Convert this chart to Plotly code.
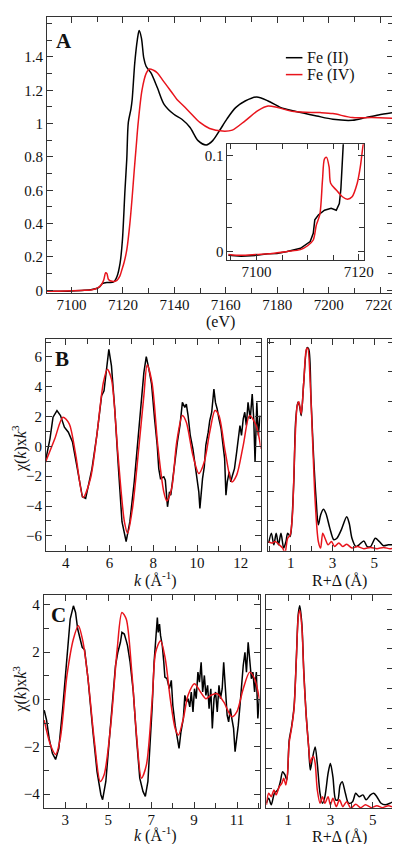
import plotly.graph_objects as go

FONT = "Liberation Serif"
FRAME = "#333333"
BLACK = "#000000"
RED = "#e8141c"

# ---------------- Panel A : XANES ----------------
a_e_fe2 = [7090.5, 7095, 7100, 7105, 7108, 7110, 7111, 7112, 7114, 7116.4, 7117.7, 7118.9, 7119.8,
           7120.8, 7121.5, 7122.1, 7123.1, 7123.6, 7124.6, 7125.6, 7126.3, 7127.2, 7128.1, 7129.0,
           7130.9, 7133.4, 7136.0, 7139.8, 7142.9, 7146.1, 7149.2, 7152.4, 7154.9, 7157.5, 7160.5,
           7163.8, 7167.5, 7172.0, 7176.4, 7181.4, 7186.5, 7195.3, 7201.6, 7209.2, 7214.3, 7219.3, 7225]
a_mu_fe2 = [-0.004, -0.006, -0.004, 0.0, 0.005, 0.012, 0.022, 0.04, 0.047, 0.05, 0.083, 0.163, 0.30,
            0.60, 0.788, 1.007, 1.086, 1.145, 1.364, 1.503, 1.558, 1.513, 1.394, 1.344,
            1.304, 1.215, 1.116, 1.056, 1.026, 0.977, 0.898, 0.872, 0.898, 0.957, 1.03,
            1.096, 1.136, 1.16, 1.136, 1.096, 1.076, 1.046, 1.026, 1.02, 1.036, 1.052, 1.066]

a_e_fe4 = [7090.5, 7095, 7100, 7105, 7108, 7110, 7111.5, 7112.5, 7113.3, 7113.8, 7114.4, 7115.8, 7117.7,
           7118.8, 7119.6, 7120.5, 7121.5, 7122.7, 7123.6, 7124.4, 7125.2, 7125.9, 7127.4, 7129.0,
           7130.3, 7131.9, 7133.4, 7135.3, 7137.2, 7139.1, 7141.0, 7143.6, 7146.7, 7149.9, 7153.7,
           7158.7, 7162.5, 7167.5, 7172.6, 7176.4, 7180.2, 7186.5, 7196.6, 7201.6, 7209.2, 7216.8, 7225]
a_mu_fe4 = [-0.006, -0.005, -0.003, 0.0, 0.004, 0.012, 0.03, 0.06, 0.105, 0.1, 0.065, 0.054, 0.06,
            0.085, 0.123, 0.17, 0.242, 0.40, 0.56, 0.72, 0.87, 1.0, 1.2, 1.3,
            1.328, 1.32, 1.304, 1.264, 1.225, 1.185, 1.145, 1.106, 1.056, 1.007, 0.971,
            0.955, 0.961, 1.017, 1.08, 1.106, 1.096, 1.072, 1.066, 1.06, 1.036, 1.036, 1.032]
a_y_tickvals = [0, 0.2, 0.4, 0.6, 0.8, 1.0, 1.2, 1.4]

# inset (pre-edge)
ins_e_fe2 = [7094.5, 7097, 7100, 7102.2, 7104, 7105, 7106, 7108.6, 7110.5, 7111.1, 7111.4, 7112.1,
             7113.3, 7114.6, 7115.6, 7116.2, 7116.5, 7116.7, 7117.0]
ins_mu_fe2 = [-0.004, -0.005, -0.004, -0.0024, -0.002, -0.001, 0.0, 0.0034, 0.0103, 0.019, 0.033, 0.038,
              0.043, 0.045, 0.043, 0.05, 0.065, 0.085, 0.115]
ins_e_fe4 = [7094.5, 7097, 7100, 7103, 7106, 7108.6, 7110, 7111.1, 7111.7, 7112.4, 7112.9, 7113.3,
             7113.7, 7114.2, 7114.5, 7115.6, 7116.8, 7117.8, 7118.7, 7119.7, 7120.3, 7120.8, 7121.0]
ins_mu_fe4 = [-0.003, -0.004, -0.003, -0.002, 0.0, 0.002, 0.006, 0.012, 0.0276, 0.039, 0.074, 0.0965,
              0.098, 0.088, 0.071, 0.064, 0.057, 0.0545, 0.057, 0.071, 0.088, 0.109, 0.115]

# ---------------- Panel B : EXAFS ----------------
b_k_exp = [3.05, 3.28, 3.42, 3.6, 3.76, 3.94, 4.12, 4.31, 4.53, 4.76, 4.91, 5.05, 5.2, 5.42, 5.64,
           5.75, 5.87, 5.97, 6.09, 6.24, 6.39, 6.57, 6.76, 6.93, 7.13, 7.35, 7.47, 7.57, 7.68, 7.8,
           7.92, 8.06, 8.18, 8.25, 8.33, 8.48, 8.55, 8.65, 8.74, 8.8, 8.89, 9.0, 9.1, 9.22, 9.33,
           9.44, 9.51, 9.59, 9.69, 9.81, 9.93, 10.0, 10.08, 10.13, 10.21, 10.25, 10.33, 10.4, 10.51,
           10.58, 10.67, 10.77, 10.84, 10.92, 11.0, 11.1, 11.17, 11.26, 11.32, 11.38, 11.47, 11.54,
           11.62, 11.71, 11.81, 11.88, 11.96, 12.03, 12.11, 12.18, 12.25, 12.33, 12.43, 12.52, 12.59,
           12.65, 12.73, 12.8, 12.88]
b_chi_exp = [-1.16, 0.51, 1.96, 2.4, 2.07, 1.29, 0.95, 0.29, -1.49, -3.38, -3.49, -2.6, -1.49, 0.73, 3.4,
             3.73, 5.29, 6.51, 5.4, 2.51, -1.05, -5.05, -6.38, -5.05, -2.38, 0.95, 3.29, 4.95, 6.02, 5.18,
             4.2, 1.84, 0.07, -1.49, -2.16, -2.04, -2.27, -4.05, -3.05, -3.27, -2.16, -1.05, 0.29, 1.4, 2.95,
             2.62, 2.84, 2.07, 0.73, -0.16, -1.49, -2.16, -3.05, -4.16, -2.38, -2.16, -1.38, 0.07, 0.95,
             1.73, 2.29, 3.85, 2.95, 2.51, 1.84, 1.18, 0.29, -0.82, -3.27, -2.38, -1.71, -2.38,
             -1.93, -1.49, -0.38, 0.51, 1.4, 0.73, 1.84, 2.29, 1.4, 2.95, 1.84, 3.51, 1.84,
             -1.05, 2.95, 0.73, 2.07]
b_k_fit = [3.05, 3.5, 3.87, 4.16, 4.46, 4.8, 5.13, 5.42, 5.72, 5.9, 6.09, 6.39, 6.68, 6.83, 7.05, 7.35,
           7.57, 7.72, 7.94, 8.21, 8.48, 8.62, 8.84, 9.07, 9.33, 9.51, 9.81, 10.08, 10.33, 10.58, 10.82,
           11.0, 11.29, 11.59, 11.81, 12.11, 12.4, 12.7, 12.92]
b_chi_fit = [-1.16, 0.51, 1.96, 1.51, -0.6, -3.42, -2.16, 0.73, 4.29, 5.18, 4.51, -0.6, -5.04, -5.82, -4.15, 0.07,
             3.4, 5.45, 4.29, 0.0, -3.05, -3.67, -2.82, 0.29, 2.07, 1.62, -0.6, -1.82, -1.05, 0.95, 2.4,
             2.07, -0.38, -2.38, -1.93, 0.07, 2.07, 1.4, -0.16]

b_r_exp = [-0.06, 0.07, 0.19, 0.3, 0.41, 0.53, 0.66, 0.77, 0.85, 0.97, 1.03, 1.15, 1.23, 1.34, 1.42,
           1.5, 1.62, 1.78, 1.86, 1.97, 2.09, 2.21, 2.32, 2.43, 2.56, 2.68, 2.87, 3.06, 3.21, 3.42,
           3.68, 3.8, 3.93, 4.12, 4.27, 4.5, 4.66, 4.82, 5.05, 5.24, 5.44, 5.67, 5.95]
b_ft_exp = [0.26, 0.59, 0.2, 0.59, 0.2, 0.59, 0.09, 0.31, 0.59, 0.48, 0.76, 2.42, 4.31, 4.98, 4.85,
            4.53, 5.64, 6.81, 6.76, 5.09, 3.2, 1.76, 0.87, 1.2, 1.39, 1.26, 0.76, 0.37, 0.42, 0.7,
            1.14, 0.92, 0.42, 0.14, 0.2, 0.33, 0.14, 0.14, 0.42, 0.31, 0.17, 0.2, 0.2]
b_r_fit = [-0.06, 0.1, 0.25, 0.45, 0.61, 0.72, 0.85, 0.97, 1.08, 1.19, 1.31, 1.39, 1.5, 1.62, 1.75,
           1.81, 1.93, 2.06, 2.17, 2.32, 2.43, 2.53, 2.64, 2.79, 2.95, 3.1, 3.3, 3.49, 3.68, 3.93,
           4.19, 4.5, 4.82, 5.13, 5.44, 5.75, 5.95]
b_ft_fit = [0.31, 0.26, 0.31, 0.2, 0.09, -0.08, 0.42, 0.53, 1.2, 3.42, 4.87, 5.0, 4.59, 5.64, 6.76,
            6.79, 5.64, 3.42, 1.64, 0.31, 0.09, 0.59, 0.42, 0.2, 0.31, 0.14, 0.26, 0.14, 0.22, 0.09,
            0.14, 0.07, 0.11, 0.07, 0.11, 0.07, 0.09]

# ---------------- Panel C : EXAFS ----------------
c_k_exp = [2.02, 2.13, 2.25, 2.4, 2.55, 2.7, 2.88, 3.08, 3.23, 3.38, 3.48, 3.58, 3.72, 3.79, 3.9, 4.06,
           4.29, 4.48, 4.66, 4.74, 4.89, 5.12, 5.34, 5.45, 5.57, 5.64, 5.75, 5.84, 5.9, 6.02, 6.17,
           6.32, 6.47, 6.62, 6.73, 6.85, 6.95, 7.05, 7.14, 7.21, 7.29, 7.33, 7.39, 7.44, 7.52, 7.59,
           7.64, 7.74, 7.85, 7.94, 8.01, 8.12, 8.24, 8.3, 8.39, 8.5, 8.57, 8.65, 8.72, 8.8, 8.87,
           8.95, 9.02, 9.1, 9.18, 9.25, 9.33, 9.4, 9.48, 9.55, 9.63, 9.7, 9.78, 9.85, 9.93, 10.0,
           10.08, 10.16, 10.23, 10.31, 10.38, 10.46, 10.54, 10.61, 10.69, 10.76, 10.84, 10.91, 10.99,
           11.06, 11.14, 11.22, 11.29, 11.37, 11.44, 11.52, 11.59, 11.67, 11.74, 11.82, 11.9, 11.97, 12.04]
c_chi_exp = [-0.46, -0.88, -1.65, -2.28, -2.54, -2.07, -0.39, 1.85, 3.39, 3.95, 3.67, 2.97, 2.41, 2.2, 2.1, 0.87,
             -1.37, -3.05, -4.03, -4.24, -3.47, -0.95, 1.43, 1.99, 2.41, 2.83, 2.76, 2.48, 2.27, 1.57, 0.31,
             -1.65, -3.33, -3.89, -4.1, -3.47, -2.0, -0.3, 1.6, 2.55, 3.46, 2.83, 3.18, 2.69, 2.27, 1.57,
             0.94, 0.87, 0.45, 0.8, -0.25, -1.09, -1.65, -2.07, -1.37, -0.81, 0.17, -0.11, 0.03, -0.32, 0.31,
             -0.53, 0.45, 0.03, 1.15, 0.73, 1.57, 0.31, 1.01, 0.17, 0.59, -0.39, 0.45, -1.23, 0.03, 0.31,
             -0.53, 0.59, 0.03, 0.45, 1.57, 0.31, -0.67, -0.95, -0.39, -0.81, -1.23, -2.21, -1.65,
             -1.09, -0.25, 0.87, 1.43, 1.99, 1.15, 2.41, 1.71, 0.87, 1.15, 0.31, 1.15, -0.81, 0.03]
c_k_fit = [2.02, 2.3, 2.55, 2.77, 3.08, 3.38, 3.61, 3.83, 4.06, 4.36, 4.63, 4.81, 5.12, 5.42, 5.64, 5.84,
           6.1, 6.32, 6.55, 6.78, 7.05, 7.21, 7.44, 7.66, 7.89, 8.12, 8.27, 8.5, 8.72, 9.02, 9.3, 9.55,
           9.78, 10.08, 10.38, 10.76, 10.99, 11.29, 11.59, 11.82, 12.04]
c_chi_fit = [-0.88, -1.9, -2.33, -1.65, 1.01, 2.55, 3.11, 2.41, 0.87, -1.79, -3.47, -3.19, -1.09, 2.13, 3.67, 3.39,
             1.15, -1.51, -3.33, -2.77, 0.0, 1.99, 2.48, 1.71, 0.03, -1.23, -1.51, -0.81, 0.17, 0.66, 0.31, 0.03,
             0.17, 0.24, -0.11, -0.74, -0.53, 0.45, 1.15, 0.87, 0.03]

c_r_exp = [-0.03, 0.08, 0.2, 0.35, 0.51, 0.63, 0.74, 0.85, 0.94, 1.05, 1.16, 1.28, 1.39, 1.48, 1.55,
           1.65, 1.74, 1.85, 1.97, 2.05, 2.15, 2.28, 2.38, 2.51, 2.63, 2.74, 2.89, 3.0, 3.12, 3.25,
           3.35, 3.46, 3.56, 3.71, 3.86, 4.05, 4.2, 4.36, 4.54, 4.69, 4.9, 5.05, 5.2, 5.4, 5.59,
           5.82, 5.97]
c_ft_exp = [0.25, 0.5, 0.17, 0.75, 0.92, 1.33, 1.83, 1.67, 1.42, 3.42, 4.08, 5.08, 7.58, 9.75, 10.17,
            9.25, 6.92, 4.75, 3.08, 1.92, 2.5, 3.08, 2.25, 0.75, 0.25, 0.58, 1.75, 2.25, 1.58, 0.42,
            0.42, 1.17, 1.33, 0.75, 0.25, 0.33, 0.75, 0.58, 0.67, 0.42, 0.67, 0.75, 0.58, 0.25, 0.17,
            0.25, 0.33]
c_r_fit = [-0.03, 0.08, 0.2, 0.33, 0.43, 0.58, 0.7, 0.79, 0.89, 0.97, 1.05, 1.16, 1.28, 1.39, 1.48,
           1.55, 1.65, 1.74, 1.85, 1.97, 2.05, 2.12, 2.2, 2.28, 2.38, 2.51, 2.63, 2.74, 2.89, 3.0,
           3.12, 3.28, 3.43, 3.59, 3.77, 3.97, 4.2, 4.43, 4.66, 4.94, 5.2, 5.46, 5.74, 5.97]
c_ft_fit = [0.17, 0.75, 0.58, 0.92, 0.67, 1.08, 1.25, 1.5, 1.17, 1.75, 3.3, 4.0, 5.0, 7.5, 9.6,
            9.95, 9.1, 6.8, 4.7, 3.1, 2.25, 2.5, 2.6, 2.25, 0.92, 0.25, 0.58, 0.25, 0.58, 0.17,
            0.5, 0.08, 0.42, 0.08, 0.33, 0.0, 0.2, 0.03, 0.17, 0.03, 0.13, 0.03, 0.13, 0.05]

legend_names = ["Fe (II)", "Fe (IV)"]
legend_colors = [BLACK, RED]


def line(x, y, color, xa, ya, name=None, smooth=False):
    return go.Scatter(
        x=x, y=y, mode="lines", name=name, showlegend=False, xaxis=xa, yaxis=ya,
        line=dict(color=color, width=1.5, shape="spline" if smooth else "linear",
                  smoothing=0.8 if smooth else None),
        hoverinfo="skip")


fig = go.Figure()
fig.add_trace(line(a_e_fe2, a_mu_fe2, BLACK, "x", "y", legend_names[0], True))
fig.add_trace(line(a_e_fe4, a_mu_fe4, RED, "x", "y", legend_names[1], True))
fig.add_trace(line(ins_e_fe2, ins_mu_fe2, BLACK, "x2", "y2"))
fig.add_trace(line(ins_e_fe4, ins_mu_fe4, RED, "x2", "y2", smooth=True))
fig.add_trace(line(b_k_exp, b_chi_exp, BLACK, "x3", "y3"))
fig.add_trace(line(b_k_fit, b_chi_fit, RED, "x3", "y3", smooth=True))
fig.add_trace(line(b_r_exp, b_ft_exp, BLACK, "x4", "y4", smooth=True))
fig.add_trace(line(b_r_fit, b_ft_fit, RED, "x4", "y4", smooth=True))
fig.add_trace(line(c_k_exp, c_chi_exp, BLACK, "x5", "y5"))
fig.add_trace(line(c_k_fit, c_chi_fit, RED, "x5", "y5", smooth=True))
fig.add_trace(line(c_r_exp, c_ft_exp, BLACK, "x6", "y6", smooth=True))
fig.add_trace(line(c_r_fit, c_ft_fit, RED, "x6", "y6", smooth=True))


def ax(rng, domain, anchor, dtick, minor=None, tick0=None, labels=True, tickvals=None, standoff=0):
    d = dict(range=rng, domain=domain, anchor=anchor, showline=True, linecolor=FRAME, linewidth=1,
             mirror="allticks", ticks="inside", ticklen=6, tickwidth=1, tickcolor=FRAME,
             showgrid=False, zeroline=False, showticklabels=labels, ticklabelstandoff=standoff,
             tickfont=dict(family=FONT, size=15, color="#111111"))
    if tickvals is not None:
        d["tickmode"] = "array"
        d["tickvals"] = tickvals
    else:
        d["dtick"] = dtick
        if tick0 is not None:
            d["tick0"] = tick0
    if minor is not None:
        m = dict(ticks="inside", ticklen=5, dtick=minor, tickcolor=FRAME, tickwidth=1, showgrid=False)
        m["tick0"] = tick0 if tick0 is not None else 0
        d["minor"] = m
    return d


H = 844.0
W = 400.0


def yd(top, bot):
    return [1 - bot / H, 1 - top / H]


def xd(l, r):
    return [l / W, r / W]


fig.update_layout(
    width=400, height=844, margin=dict(l=0, r=0, t=0, b=0),
    paper_bgcolor="white", plot_bgcolor="white", showlegend=False,
    font=dict(family=FONT, size=15, color="#111111"),
    xaxis=ax([7090.5, 7225], xd(40, 395), "y", 20, 10, 7100, standoff=-2),
    yaxis=ax([-0.018, 1.64], yd(9, 287), "x", 0.2, 0.1, 0, tickvals=a_y_tickvals),
    xaxis2=ax([7094.3, 7121], xd(225, 365), "y2", 20, 5, 7100, standoff=-2),
    yaxis2=ax([-0.0083, 0.1117], yd(137, 253), "x2", 0.1, 0.025, 0),
    xaxis3=ax([3.1, 12.9], xd(39, 259), "y3", 2, 1, 4, standoff=-2),
    yaxis3=ax([-7.0, 7.2], yd(333, 546), "x3", 2, 1, 0),
    xaxis4=ax([-0.09, 5.95], xd(266.7, 396), "y4", 2, 1, 1, standoff=-2),
    yaxis4=ax([0, 7.1], yd(333, 546), "x4", 1, None, 0, labels=False),
    xaxis5=ax([2.0, 12.05], xd(36.7, 258), "y5", 2, 1, 3, standoff=-2),
    yaxis5=ax([-4.6, 4.4], yd(590.7, 805), "x5", 2, 1, 0),
    xaxis6=ax([-0.03, 5.97], xd(265, 395), "y6", 2, 1, 1, standoff=-2),
    yaxis6=ax([0, 10.7], yd(590.7, 805), "x6", 1, None, 0, labels=False),
)

# legend (sample lines + labels) in panel A
shapes = []
ann = []
for i, (nm, col) in enumerate(zip(legend_names, legend_colors)):
    yy = 1 - (50 + 17 * i) / H
    shapes.append(dict(type="line", xref="paper", yref="paper", x0=285 / W, x1=302 / W, y0=yy, y1=yy,
                       line=dict(color=col, width=1.5)))
    ann.append(dict(text=nm, x=305 / W, y=yy, xanchor="left", font=dict(size=16)))

ann += [
    dict(text="<b>A</b>", x=57 / W, y=1 - 33 / H, font=dict(size=21)),
    dict(text="<b>B</b>", x=55 / W, y=1 - 353 / H, font=dict(size=21)),
    dict(text="<b>C</b>", x=52 / W, y=1 - 611 / H, font=dict(size=21)),
    dict(text="(eV)", x=218 / W, y=1 - 316 / H, font=dict(size=16)),
    dict(text="<i>k</i> (Å<sup>-1</sup>)", x=151 / W, y=1 - 575 / H, font=dict(size=16)),
    dict(text="R+Δ (Å)", x=340 / W, y=1 - 576 / H, font=dict(size=16)),
    dict(text="<i>k</i> (Å<sup>-1</sup>)", x=151 / W, y=0.5 / H, yanchor="bottom", font=dict(size=16)),
    dict(text="R+Δ (Å)", x=340 / W, y=1 - 834 / H, font=dict(size=16)),
    dict(text="χ(<i>k</i>)x<i>k</i><sup>3</sup>", x=12 / W, y=1 - 443 / H, textangle=-90, font=dict(size=16)),
    dict(text="χ(<i>k</i>)x<i>k</i><sup>3</sup>", x=13 / W, y=1 - 685 / H, textangle=-90, font=dict(size=16)),
]
for a in ann:
    a.update(xref="paper", yref="paper", showarrow=False)
    a.setdefault("yanchor", "middle")
    a.setdefault("xanchor", "center")
    a["font"] = dict(family=FONT, color="#111111", **a["font"])
fig.update_layout(annotations=ann, shapes=shapes)

fig.write_html("out.html")
